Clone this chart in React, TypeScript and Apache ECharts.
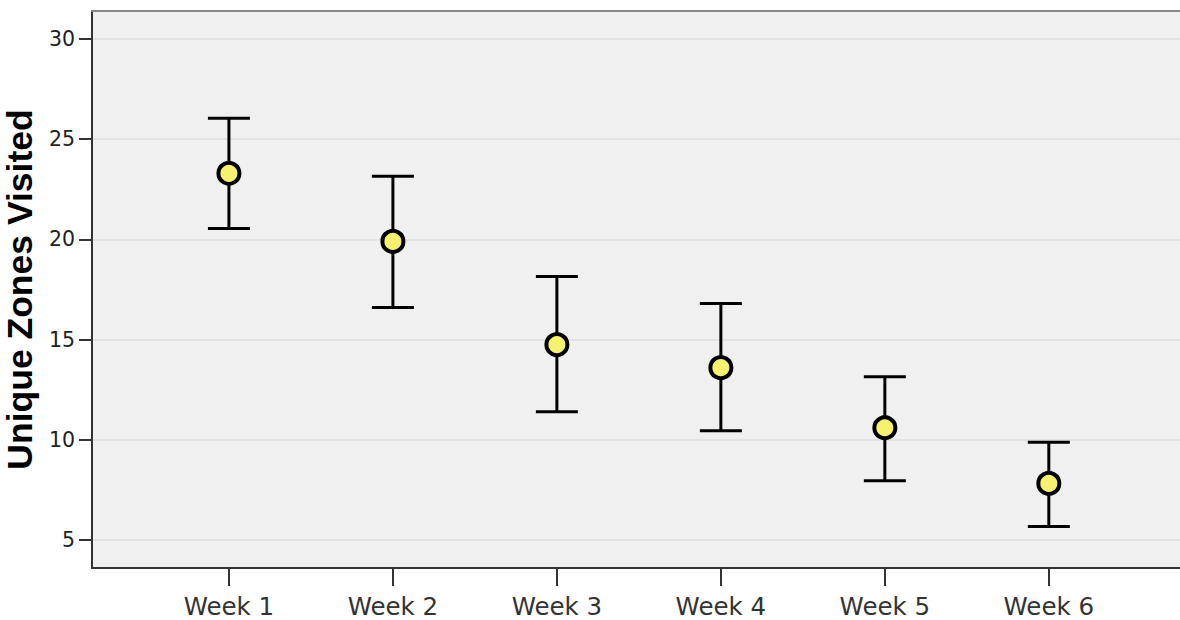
import React, { useEffect, useRef } from "react";
import * as echarts from "echarts";

const categories = ["Week 1", "Week 2", "Week 3", "Week 4", "Week 5", "Week 6"];
const positions = [1, 2, 3, 4, 5, 6];
const means = [23.3, 19.9, 14.75, 13.6, 10.6, 7.82];
const upper = [26.05, 23.15, 18.15, 16.8, 13.15, 9.87];
const lower = [20.55, 16.6, 11.4, 10.45, 7.95, 5.67];
const yTicks = [5, 10, 15, 20, 25, 30];
const yTitle = "Unique Zones Visited";

export default function App() {
  const ref = useRef<HTMLDivElement>(null);
  useEffect(() => {
    if (!ref.current) return;
    const chart = echarts.init(ref.current, undefined, { renderer: "svg" });
    const errData = positions.map((p, i) => [p, lower[i], upper[i]]);
    const meanData = positions.map((p, i) => [p, means[i]]);
    chart.setOption({
      animation: false,
      grid: {
        left: 92,
        right: 0,
        top: 11,
        bottom: 52,
        show: true,
        backgroundColor: "#f0f0f0",
        borderWidth: 0,
        containLabel: false,
        outerBoundsMode: "none",
      },
      xAxis: [
        {
          type: "value",
          min: 0.165,
          max: 6.8,
          axisLine: { show: true, onZero: false, lineStyle: { color: "#333", width: 2 } },
          axisTick: {
            show: true,
            customValues: positions,
            length: 18,
            lineStyle: { color: "#333", width: 2 },
          },
          axisLabel: {
            customValues: positions,
            formatter: (v: number) => categories[Math.round(v) - 1] ?? "",
            margin: 26,
            color: "#333",
            fontSize: 24.5,
            fontFamily: "DejaVu Sans",
          },
          splitLine: { show: false },
        },
        {
          type: "value",
          position: "top",
          min: 0.165,
          max: 6.8,
          axisLine: { show: true, onZero: false, lineStyle: { color: "#888", width: 2 } },
          axisTick: { show: false },
          axisLabel: { show: false },
          splitLine: { show: false },
        },
      ],
      yAxis: {
        type: "value",
        min: 3.6,
        max: 31.4,
        name: yTitle,
        nameLocation: "middle",
        nameGap: 51,
        nameTextStyle: {
          fontFamily: "Liberation Sans",
          fontWeight: "bold",
          fontSize: 35.5,
          color: "#000",
        },
        axisLine: { show: true, lineStyle: { color: "#333", width: 2 } },
        axisTick: {
          show: true,
          customValues: yTicks,
          length: 13,
          lineStyle: { color: "#333", width: 2 },
        },
        axisLabel: {
          customValues: yTicks,
          margin: 17,
          color: "#222",
          fontSize: 20.5,
          fontFamily: "DejaVu Sans",
        },
        splitLine: { show: true, lineStyle: { color: "#e2e2e2", width: 2 } },
      },
      series: [
        {
          type: "custom",
          xAxisIndex: 0,
          data: errData,
          renderItem: (params: any, api: any) => {
            const x = api.value(0);
            const lo = api.coord([x, api.value(1)]);
            const hi = api.coord([x, api.value(2)]);
            const hw = 21;
            const style = { stroke: "#000", lineWidth: 3 };
            return {
              type: "group",
              children: [
                { type: "line", shape: { x1: lo[0], y1: lo[1], x2: hi[0], y2: hi[1] }, style },
                { type: "line", shape: { x1: hi[0] - hw, y1: hi[1], x2: hi[0] + hw, y2: hi[1] }, style },
                { type: "line", shape: { x1: lo[0] - hw, y1: lo[1], x2: lo[0] + hw, y2: lo[1] }, style },
              ],
            };
          },
          z: 2,
        },
        {
          type: "scatter",
          xAxisIndex: 0,
          data: meanData,
          symbol: "circle",
          symbolSize: 21,
          itemStyle: { color: "#f6f16e", borderColor: "#000", borderWidth: 4, opacity: 1 },
          z: 3,
        },
      ],
    });
    return () => chart.dispose();
  }, []);
  return (
    <div
      ref={ref}
      style={{ position: "absolute", left: 0, top: 0, width: 1180, height: 620 }}
    />
  );
}
